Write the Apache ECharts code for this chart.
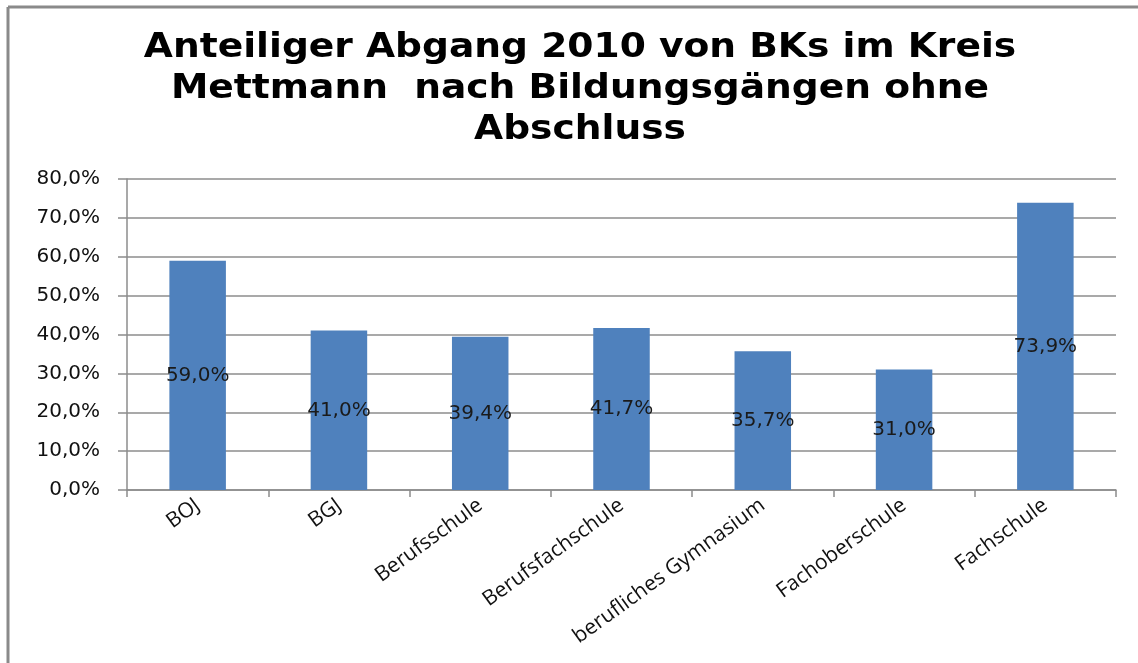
<!DOCTYPE html>
<html>
<head>
<meta charset="utf-8">
<script src="https://cdn.jsdelivr.net/npm/echarts@6/dist/echarts.min.js"></script>
<style>
  html, body { margin: 0; padding: 0; background: #fff; }
  #chart { width: 1138px; height: 663px; }
</style>
</head>
<body>
<div id="chart"></div>
<script>
// Bildungsgänge und Anteil der Abgänge ohne Abschluss (in %)
const categories = ['BOJ', 'BGJ', 'Berufsschule', 'Berufsfachschule', 'berufliches Gymnasium', 'Fachoberschule', 'Fachschule'];
const shares = [59.0, 41.0, 39.4, 41.7, 35.7, 31.0, 73.9];
const titleLines = ['Anteiliger Abgang 2010 von BKs im Kreis', 'Mettmann  nach Bildungsgängen ohne', 'Abschluss'];

const pct = v => v.toFixed(1).replace('.', ',') + '%';

const chart = echarts.init(document.getElementById('chart'), null, { renderer: 'canvas' });

chart.setOption({
  backgroundColor: '#ffffff',
  animation: false,
  graphic: [
    // frame of the chart area (top and left edges)
    { type: 'line', shape: { x1: 8, y1: 7, x2: 1138, y2: 7 }, style: { stroke: '#8a8a8a', lineWidth: 3 } },
    { type: 'line', shape: { x1: 8, y1: 7, x2: 8, y2: 663 }, style: { stroke: '#8a8a8a', lineWidth: 3 } },
    // chart title, slightly widened
    {
      type: 'text',
      x: 580,
      y: 28,
      scaleX: 1.14,
      style: {
        text: titleLines.join('\n'),
        textAlign: 'center',
        textVerticalAlign: 'top',
        font: 'bold 33px "DejaVu Sans"',
        lineHeight: 41,
        fill: '#000'
      }
    }
  ],
  grid: { left: 127, right: 22, top: 179, bottom: 173 },
  xAxis: {
    type: 'category',
    data: categories,
    axisLine: { lineStyle: { color: '#8c8c8c', width: 1.5 } },
    axisTick: { show: true, length: 7, alignWithLabel: false, lineStyle: { color: '#8c8c8c', width: 1.5 } },
    axisLabel: {
      rotate: 36,
      interval: 0,
      margin: 13,
      fontFamily: 'Open Sans',
      fontSize: 21,
      color: '#111'
    }
  },
  yAxis: {
    type: 'value',
    min: 0,
    max: 80,
    interval: 10,
    axisLine: { show: true, lineStyle: { color: '#8c8c8c', width: 1.5 } },
    axisTick: { show: true, length: 9, lineStyle: { color: '#8c8c8c', width: 1.5 } },
    splitLine: { lineStyle: { color: '#8c8c8c', width: 1.5 } },
    axisLabel: {
      margin: 27,
      formatter: v => pct(v),
      fontFamily: 'DejaVu Sans',
      fontSize: 20,
      color: '#111'
    }
  },
  series: [{
    type: 'bar',
    data: shares,
    barWidth: '40%',
    itemStyle: { color: '#4f81bd' },
    label: {
      show: true,
      position: 'inside',
      formatter: p => pct(p.value),
      fontFamily: 'DejaVu Sans',
      fontSize: 20,
      color: '#1a1a1a'
    }
  }]
});
</script>
</body>
</html>
